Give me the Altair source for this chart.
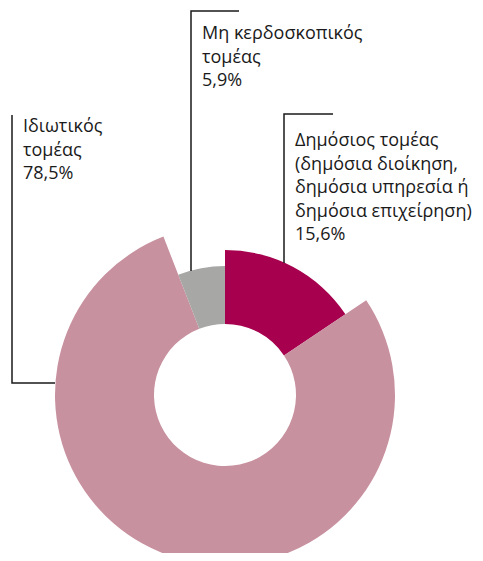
import altair as alt
import pandas as pd
import math

# Data
sectors = ["Δημόσιος τομέας", "Ιδιωτικός τομέας", "Μη κερδοσκοπικός τομέας"]
shares = [15.6, 78.5, 5.9]
colors = ["#A6004E", "#C8919F", "#A7A7A6"]

# Styling (outer radius of each slice, px)
outer_r = [145, 170, 129]
inner_r = 71
cx, cy = 217, 387

label_texts = [
    "Δημόσιος τομέας\n(δημόσια διοίκηση,\nδημόσια υπηρεσία ή\nδημόσια επιχείρηση)\n15,6%",
    "Ιδιωτικός\nτομέας\n78,5%",
    "Μη κερδοσκοπικός\nτομέας\n5,9%",
]
label_x = [287, 15, 194]
label_y = [138, 124, 31]

# leader lines (layout)
lead_id = [0, 0, 0, 1, 1, 1, 2, 2, 2]
lead_ord = [0, 1, 2, 0, 1, 2, 0, 1, 2]
lead_x = [325, 276, 276, 4, 4, 47, 231, 183, 183]
lead_y = [106, 106, 255, 107, 375, 375, 3, 3, 263]

df = pd.DataFrame({
    "sector": sectors,
    "share": shares,
    "r": outer_r,
    "idx": [0, 1, 2],
})

theta_scale = alt.Scale(domain=[0, 100], range=[0, 2 * math.pi])

arcs = alt.Chart(df).transform_window(
    cum="sum(share)", sort=[alt.SortField("idx")], frame=[None, 0]
).transform_calculate(
    start="datum.cum - datum.share"
).mark_arc(innerRadius=inner_r).encode(
    theta=alt.Theta("start:Q", scale=theta_scale, stack=None),
    theta2="cum:Q",
    radius=alt.Radius("r:Q", scale=None),
    color=alt.Color("sector:N", scale=alt.Scale(domain=sectors, range=colors), legend=None),
    x=alt.value(cx),
    y=alt.value(cy),
)

lines_df = pd.DataFrame({"id": lead_id, "o": lead_ord, "x": lead_x, "y": lead_y})
lines = alt.Chart(lines_df).mark_line(color="#1a1a1a", strokeWidth=1.5).encode(
    x=alt.X("x:Q", scale=None),
    y=alt.Y("y:Q", scale=None),
    detail="id:N",
    order="o:Q",
)

text_df = pd.DataFrame({"t": label_texts, "x": label_x, "y": label_y})
texts = alt.Chart(text_df).mark_text(
    align="left", baseline="alphabetic", lineBreak="\n", lineHeight=23.5,
    font="Open Sans", fontSize=18, color="#1a1a1a"
).encode(
    x=alt.X("x:Q", scale=None),
    y=alt.Y("y:Q", scale=None),
    text="t:N",
)

chart = alt.layer(arcs, lines, texts).properties(
    width=467, height=545, padding=0, autosize=alt.AutoSizeParams(type="none")
).configure_view(stroke=None)

chart.save("out.html", embed_options={"renderer": "svg", "actions": False})
